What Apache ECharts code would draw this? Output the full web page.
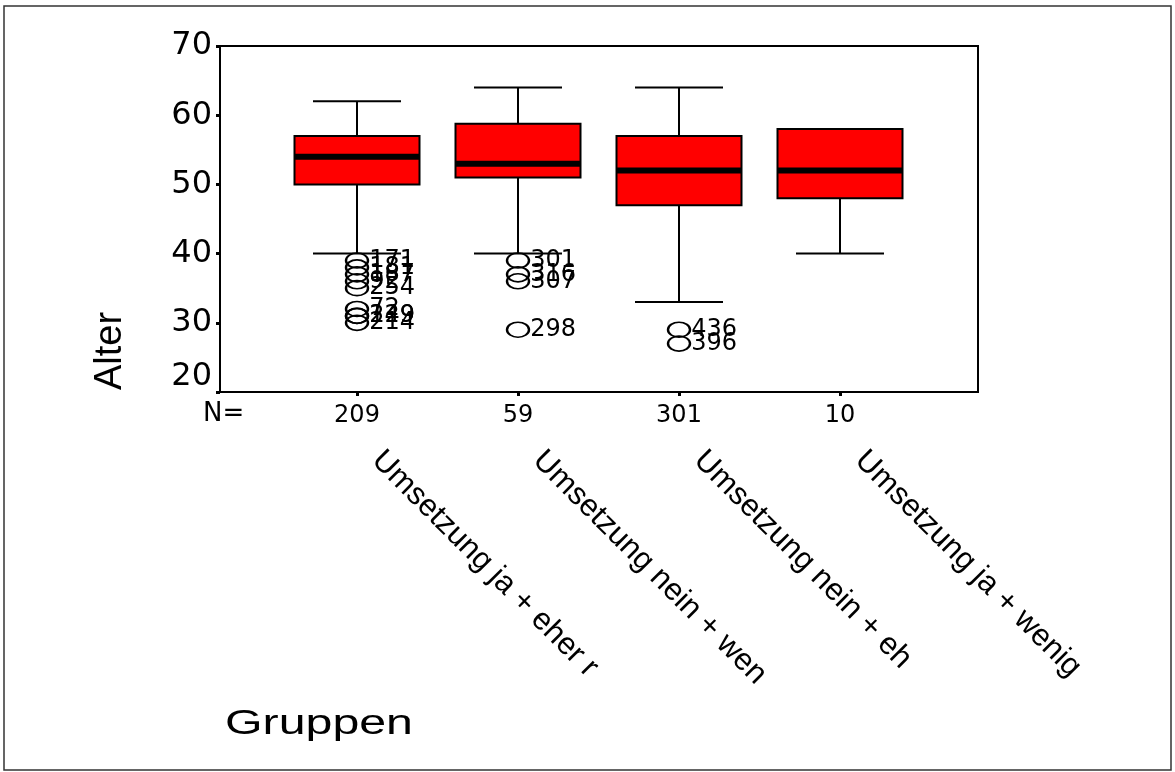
<!DOCTYPE html>
<html><head><meta charset="utf-8">
<script src="https://cdn.jsdelivr.net/npm/echarts@6/dist/echarts.min.js"></script>
<style>html,body{margin:0;padding:0;background:#fff}#c{width:1175px;height:772px}</style>
</head><body><div id="c"></div>
<script>
// ---- data ----
const categories = ['Umsetzung ja + eher r', 'Umsetzung nein + wen', 'Umsetzung nein + eh', 'Umsetzung ja + wenig'];
const groupN = [209, 59, 301, 10];
const whiskerLow = [40, 40, 33, 40];
const q1 = [50, 51, 47, 48];
const median = [54, 53, 52, 52];
const q3 = [57, 58.75, 57, 58];
const whiskerHigh = [62, 64, 64, 58];
const outlierGroup = [0, 0, 0, 0, 0, 0, 0, 0, 0, 1, 1, 1, 1, 2, 2];
const outlierValue = [39, 38, 37, 36, 35, 32, 31, 31, 30, 39, 37, 36, 29, 29, 27];
const outlierId = ['171', '181', '187', '92', '254', '72', '129', '249', '214', '301', '316', '307', '298', '436', '396'];
const yTicks = [20, 30, 40, 50, 60, 70];
const yTitle = 'Alter';
const xTitle = 'Gruppen';
const nLabel = 'N=';

// ---- chart ----
const chart = echarts.init(document.getElementById('c'), null, {renderer: 'canvas'});
const idx = categories.map((_, i) => i);
const boxRows = idx.map(i => [i, whiskerLow[i], q1[i], median[i], q3[i], whiskerHigh[i]]);
const outRows = outlierValue.map((v, i) => [outlierGroup[i], v, outlierId[i]]);
const X_MIN = (220 - 357) / 161, X_MAX = (978 - 357) / 161;
const BOX_W = 125 / 161, CAP_W = 88 / 161;
const NUM_FONT = 'DejaVu Sans';
const TXT_FONT = 'Liberation Sans';
const gridGeom = {left: 220, top: 46, width: 758, height: 346};

chart.setOption({
  animation: false,
  backgroundColor: '#fff',
  grid: [
    Object.assign({show: true, borderColor: '#000', borderWidth: 2, backgroundColor: 'rgba(0,0,0,0)'}, gridGeom),
    Object.assign({show: false}, gridGeom)
  ],
  xAxis: [{
    type: 'value', gridIndex: 0, min: X_MIN, max: X_MAX, position: 'bottom',
    splitLine: {show: false},
    axisLine: {show: true, onZero: false, lineStyle: {color: '#000', width: 2}},
    axisTick: {show: true, customValues: idx, length: 4, inside: false, lineStyle: {color: '#000', width: 3}},
    axisLabel: {show: true, customValues: idx, formatter: v => String(groupN[Math.round(v)]),
      margin: 12, color: '#000', fontFamily: NUM_FONT, fontSize: 24}
  }, {
    type: 'value', gridIndex: 1, min: X_MIN, max: X_MAX, position: 'bottom',
    splitLine: {show: false}, axisLine: {show: false, onZero: false}, axisTick: {show: false},
    axisLabel: {show: true, customValues: idx, formatter: v => categories[Math.round(v)],
      rotate: -45, align: 'left', verticalAlign: 'middle', margin: 44, padding: [0, 0, 0, 28],
      color: '#000', fontFamily: TXT_FONT, fontSize: 31}
  }],
  yAxis: [{
    type: 'value', gridIndex: 0, min: yTicks[0], max: yTicks[yTicks.length - 1], interval: 10,
    splitLine: {show: false},
    axisLine: {show: true, onZero: false, lineStyle: {color: '#000', width: 2}},
    axisTick: {show: true, length: 4, lineStyle: {color: '#000', width: 3}},
    axisLabel: {margin: 8, color: '#000', fontFamily: NUM_FONT, fontSize: 32,
      formatter: v => v === yTicks[0] ? '{low|' + v + '}' : String(v),
      rich: {low: {padding: [0, 0, 30, 0], fontFamily: NUM_FONT, fontSize: 32, color: '#000'}}}
  }, {
    type: 'value', gridIndex: 1, min: yTicks[0], max: yTicks[yTicks.length - 1], show: false,
    axisLine: {onZero: false}
  }],
  series: [{
    type: 'custom', xAxisIndex: 0, yAxisIndex: 0,
    data: boxRows,
    encode: {x: 0, y: [1, 2, 3, 4, 5]},
    renderItem: function (params, api) {
      const x = api.value(0);
      const lo = api.coord([x, api.value(1)]);
      const b1 = api.coord([x, api.value(2)]);
      const md = api.coord([x, api.value(3)]);
      const b3 = api.coord([x, api.value(4)]);
      const hi = api.coord([x, api.value(5)]);
      const bw = api.size([BOX_W, 0])[0];
      const cw = api.size([CAP_W, 0])[0];
      const cx = lo[0];
      const ls = {stroke: '#000', lineWidth: 2};
      return {type: 'group', children: [
        {type: 'line', shape: {x1: cx, y1: hi[1], x2: cx, y2: b3[1]}, style: ls},
        {type: 'line', shape: {x1: cx, y1: b1[1], x2: cx, y2: lo[1]}, style: ls},
        {type: 'line', shape: {x1: cx - cw / 2, y1: hi[1], x2: cx + cw / 2, y2: hi[1]}, style: ls},
        {type: 'line', shape: {x1: cx - cw / 2, y1: lo[1], x2: cx + cw / 2, y2: lo[1]}, style: ls},
        {type: 'rect', shape: {x: cx - bw / 2, y: b3[1], width: bw, height: b1[1] - b3[1]},
          style: {fill: '#ff0000', stroke: '#000', lineWidth: 2}},
        {type: 'rect', shape: {x: cx - bw / 2, y: md[1] - 3, width: bw, height: 6},
          style: {fill: '#000'}}
      ]};
    }
  }, {
    type: 'scatter', xAxisIndex: 0, yAxisIndex: 0,
    data: outRows,
    symbol: 'circle', symbolSize: [22, 15],
    itemStyle: {color: 'rgba(0,0,0,0)', borderColor: '#000', borderWidth: 2, opacity: 1},
    label: {show: true, position: 'right', distance: 0, formatter: p => p.data[2],
      color: '#000', fontFamily: NUM_FONT, fontSize: 24},
    labelLayout: {hideOverlap: false},
    emphasis: {disabled: true}
  }],
  graphic: [
    {type: 'rect', shape: {x: 4, y: 6, width: 1167, height: 764}, style: {fill: 'none', stroke: '#333', lineWidth: 1.5}, silent: true},
    {type: 'text', x: 203, y: 414, style: {text: nLabel, fontFamily: NUM_FONT, fontSize: 26, fill: '#000', align: 'left', verticalAlign: 'middle'}},
    {type: 'text', x: 225, y: 724, scaleX: 1.38, originX: 0, originY: 0,
      style: {text: xTitle, fontFamily: TXT_FONT, fontSize: 35, fill: '#000', align: 'left', verticalAlign: 'middle'}},
    {type: 'text', x: 111, y: 351, rotation: Math.PI / 2,
      style: {text: yTitle, fontFamily: TXT_FONT, fontSize: 38, fill: '#000', align: 'center', verticalAlign: 'middle'}}
  ]
});
</script>
</body></html>
